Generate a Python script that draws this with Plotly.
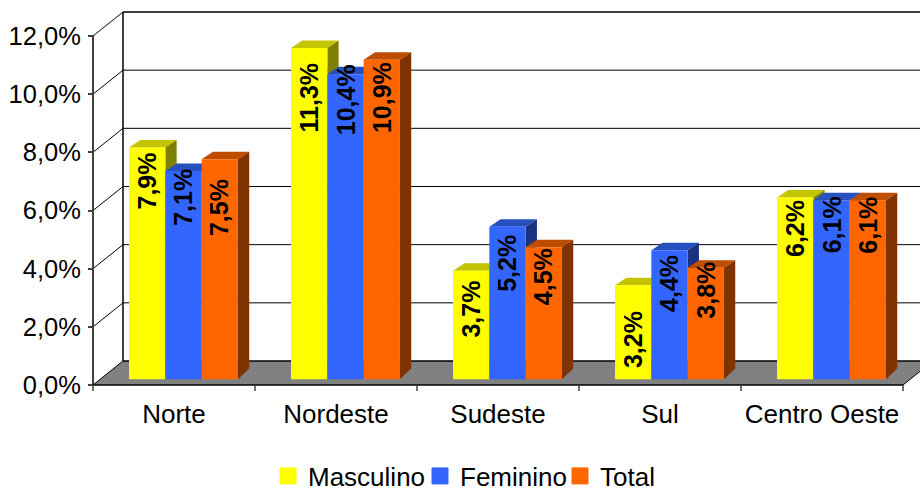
import plotly.graph_objects as go

categories = ["Norte", "Nordeste", "Sudeste", "Sul", "Centro Oeste"]
masculino = [7.9, 11.3, 3.7, 3.2, 6.2]
feminino = [7.1, 10.4, 5.2, 4.4, 6.1]
total = [7.5, 10.9, 4.5, 3.8, 6.1]
y_ticks = [0, 2, 4, 6, 8, 10, 12]

# pixel layout of the pseudo-3D box
W, H = 920, 492
AXIS_PX, FLOOR_PX = 93, 385        # where the value axis and zero line sit
PLOT_L, PLOT_R, PLOT_T, PLOT_B = 60, 920, 5, 393
CAT_PX = 162.0
UNIT_PX = 349 / 12
WALL_DX, WALL_DY = 30 / CAT_PX, 24 / UNIT_PX
AX0 = -0.5
AX1 = AX0 + 5
X_MIN = AX0 - (AXIS_PX - PLOT_L) / CAT_PX
X_MAX = AX0 + (PLOT_R - AXIS_PX) / CAT_PX
Y_MIN = -(PLOT_B - FLOOR_PX) / UNIT_PX
Y_MAX = (FLOOR_PX - PLOT_T) / UNIT_PX
BAR_W = 36.3 / CAT_PX
BAR_SHIFT = 9.5 / CAT_PX
BASE = 0.2
SCALE = 1.008
DEPTH_X = 11.3 / CAT_PX
DEPTH_TOP = 7.5 / UNIT_PX
DEPTH_BASE = 10.7 / UNIT_PX

# px below the bar's top edge where each rotated label is centred
label_drop = [
    [33.7, 49.3, 38.7, 54.5, 31.4],
    [26.3, 25.4, 36.6, 33.2, 24.5],
    [48.0, 37.6, 29.1, 22.1, 24.5],
]

series = [
    ("Masculino", masculino, "#FFFF00", "#C4C400", "#808000", "legend", 282),
    ("Feminino", feminino, "#3366FF", "#2650BF", "#1A3380", "legend2", 434),
    ("Total", total, "#FF6600", "#BF4D00", "#803300", "legend3", 574),
]

fig = go.Figure()
annotations = []
legends = {}

for s, (name, values, front, top_c, side_c, leg, leg_px) in enumerate(series):
    xs = [i + BAR_SHIFT + (s - 1) * BAR_W for i in range(len(values))]
    heights = [v * SCALE for v in values]
    z = 2 * s + 1
    for xc, h in zip(xs, heights):
        xl, xr = xc - BAR_W / 2, xc + BAR_W / 2
        yt = BASE + h
        fig.add_trace(go.Scatter(
            x=[xl, xl + DEPTH_X, xr + DEPTH_X, xr, xl],
            y=[yt, yt + DEPTH_TOP, yt + DEPTH_TOP, yt, yt],
            mode="lines", fill="toself", fillcolor=top_c, line=dict(width=0),
            showlegend=False, hoverinfo="skip", zorder=z))
        fig.add_trace(go.Scatter(
            x=[xr, xr + DEPTH_X, xr + DEPTH_X, xr, xr],
            y=[BASE, BASE + DEPTH_BASE, yt + DEPTH_TOP, yt, BASE],
            mode="lines", fill="toself", fillcolor=side_c, line=dict(width=0),
            showlegend=False, hoverinfo="skip", zorder=z))
    fig.add_trace(go.Bar(
        x=xs, y=heights, base=BASE, width=BAR_W, name=name,
        marker=dict(color=front, line=dict(width=0)),
        showlegend=False, zorder=z + 1))
    # legend entry
    fig.add_trace(go.Scatter(
        x=[None], y=[None], mode="markers", name=name, legend=leg,
        marker=dict(symbol="square", size=16, color=front, line=dict(color=front, width=1)),
        zorder=z + 1))
    legends[leg] = dict(
        orientation="h", xref="container", yref="container",
        x=(leg_px - 8) / W, xanchor="left", y=16 / H, yanchor="middle", indentation=-6,
        font=dict(size=26), bgcolor="rgba(0,0,0,0)", itemclick=False, itemdoubleclick=False)
    for xc, h, v, drop in zip(xs, heights, values, label_drop[s]):
        annotations.append(dict(
            x=xc, y=BASE + h, xref="x", yref="y", yshift=-drop,
            text=f"{v:.1f}%".replace(".", ","), textangle=-90, showarrow=False,
            xanchor="center", yanchor="middle",
            font=dict(family="Liberation Sans", size=25, color="#000000", weight="bold")))

shapes = []
# floor
shapes.append(dict(type="path", layer="below", line=dict(width=0), fillcolor="#808080",
                   path=f"M {AX0} 0 L {AX0 + WALL_DX} {WALL_DY} L {AX1 + WALL_DX} {WALL_DY} L {AX1} 0 Z"))
# grid on side and back walls
for t in y_ticks:
    shapes.append(dict(type="line", layer="below", x0=AX0, y0=t, x1=AX0 + WALL_DX, y1=t + WALL_DY,
                       line=dict(color="#000000", width=1)))
    shapes.append(dict(type="line", layer="below", x0=AX0 + WALL_DX, y0=t + WALL_DY, x1=X_MAX, y1=t + WALL_DY,
                       line=dict(color="#000000", width=1.5 if t in (0, 12) else 1)))
# wall verticals, floor right edge
shapes.append(dict(type="line", layer="below", x0=AX0 + WALL_DX, y0=WALL_DY, x1=AX0 + WALL_DX, y1=12 + WALL_DY,
                   line=dict(color="#000000", width=1.5)))
shapes.append(dict(type="line", layer="below", x0=AX0, y0=0, x1=AX0, y1=12,
                   line=dict(color="#404040", width=2)))
shapes.append(dict(type="line", layer="below", x0=AX0, y0=0, x1=AX1, y1=0,
                   line=dict(color="#000000", width=1.5)))
shapes.append(dict(type="line", layer="below", x0=AX1, y0=0, x1=AX1 + WALL_DX, y1=WALL_DY,
                   line=dict(color="#000000", width=1)))
# category boundary ticks
for i in range(len(categories) + 1):
    shapes.append(dict(type="line", layer="below", x0=i - 0.5, x1=i - 0.5, y0=0, y1=-6 / UNIT_PX,
                       line=dict(color="#404040", width=1.5)))

fig.update_layout(
    width=W, height=H, autosize=False,
    margin=dict(l=PLOT_L, r=W - PLOT_R, t=PLOT_T, b=H - PLOT_B, pad=0),
    paper_bgcolor="#FFFFFF", plot_bgcolor="#FFFFFF",
    barmode="overlay", shapes=shapes, annotations=annotations,
    font=dict(family="Liberation Sans", size=25, color="#000000"),
    xaxis=dict(range=[X_MIN, X_MAX], tickmode="array", tickvals=list(range(len(categories))),
               ticktext=categories, ticks="", showgrid=False, zeroline=False, showline=False,
               ticklabelstandoff=3, fixedrange=True, automargin=False,
               tickfont=dict(size=26)),
    yaxis=dict(range=[Y_MIN, Y_MAX], tickmode="array", tickvals=y_ticks,
               ticktext=[f"{t:.1f}%".replace(".", ",") for t in y_ticks],
               ticks="outside", ticklen=5, tickwidth=1.5, tickcolor="#404040",
               showgrid=False, zeroline=False, showline=False, fixedrange=True,
               ticklabelstandoff=2, automargin=False,
               anchor="free", position=(AXIS_PX - PLOT_L) / (PLOT_R - PLOT_L),
               tickfont=dict(size=25.5)),
    **legends,
)

fig.write_html("out.html", config={"displayModeBar": False},
               post_script="document.body.style.margin='0';document.documentElement.style.overflow='hidden';")
